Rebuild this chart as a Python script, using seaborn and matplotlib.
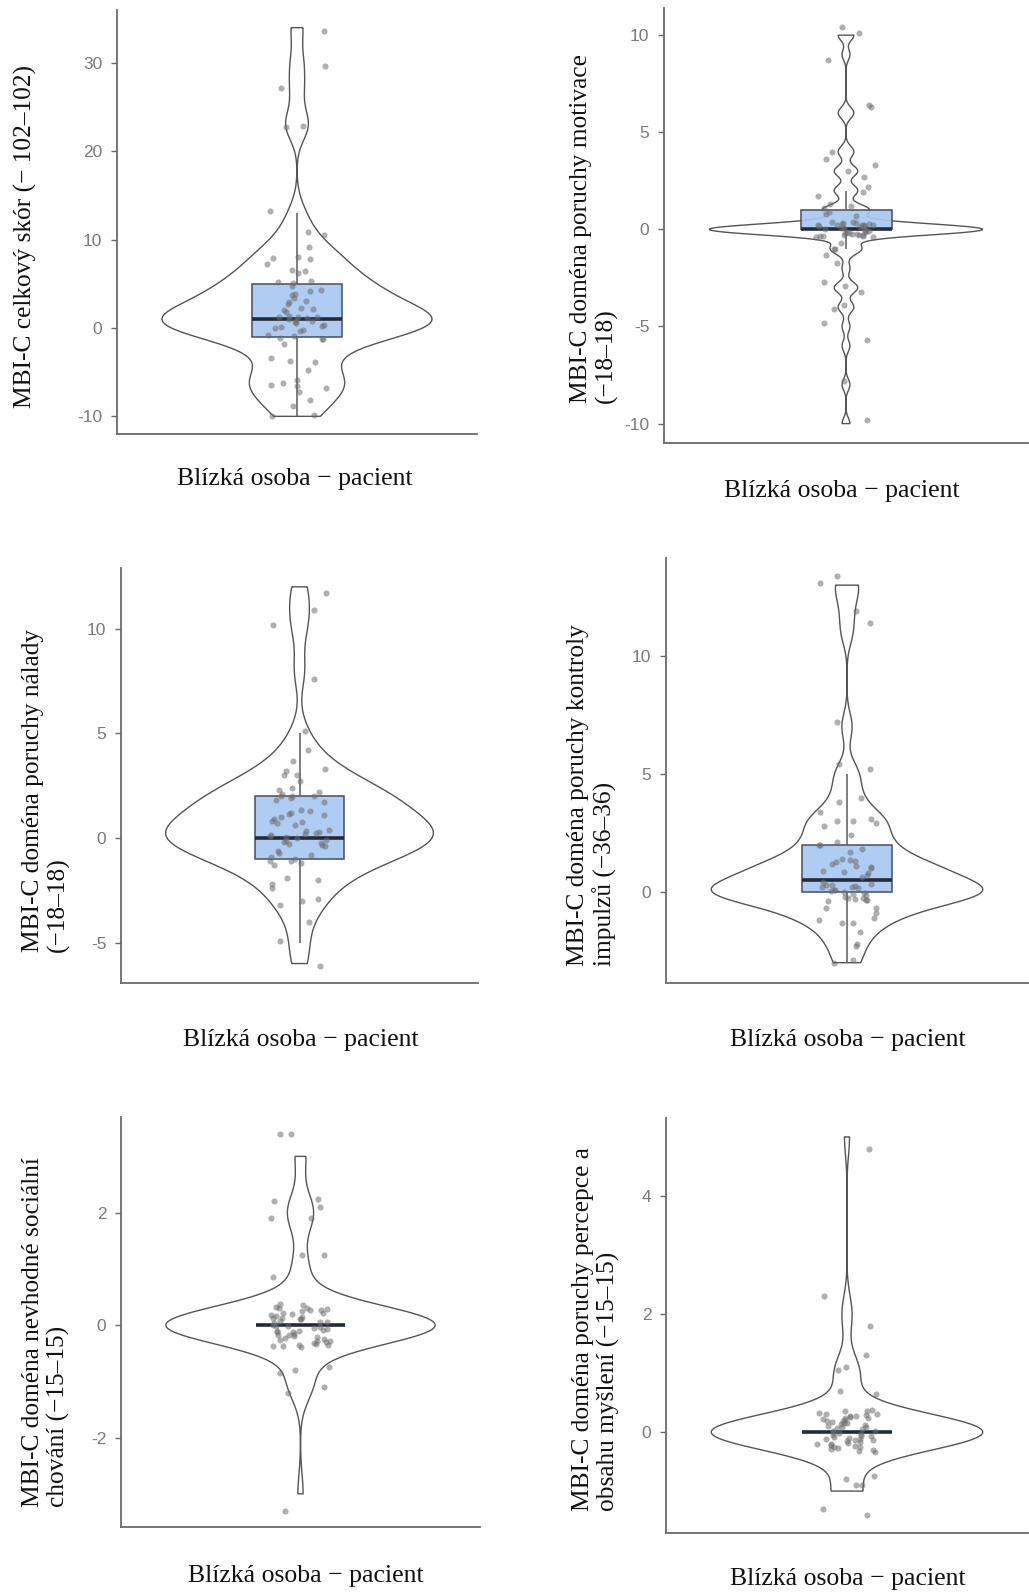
import numpy as np
import pandas as pd
import matplotlib
matplotlib.use("Agg")
import matplotlib.pyplot as plt
import seaborn as sns

group = "Blízká osoba − pacient"

# MBI-C celkový skór: integer scores (value, count) + jittered point positions
total_values = [-10, -9, -8, -7, -6, -5, -4, -3, -2, -1, 0, 1, 2, 3, 4, 5, 6, 7, 8, 9, 10, 11, 13, 23, 27, 30, 34]
total_counts = [2, 1, 1, 3, 3, 1, 2, 1, 1, 5, 6, 10, 4, 4, 4, 4, 2, 2, 3, 1, 1, 1, 1, 2, 1, 1, 1]
total_points = [-10.0, -9.9, -8.8, -8.2, -6.8, -7.2, -6.6, -6.4, -6.2, -5.9, -4.7, -3.9, -3.7, -3.4, -1.8,
                -1.2, -1.1, -0.9, -1.3, -0.8,
                -0.2, 0.3, 0.1, -0.3, 0.2, 0.0,
                1.3, 0.8, 1.1, 0.7, 1.2, 0.9, 1.4, 0.6, 1.0, 1.2,
                2.1, 1.8, 2.3, 2.0, 3.4, 2.7, 3.1, 2.9, 3.9, 4.2, 3.7, 4.3, 5.2, 5.3, 4.8, 5.1,
                6.4, 6.2, 6.6, 7.3, 7.9, 7.8, 8.0, 9.2, 10.5, 10.9, 13.2, 22.8, 22.9, 27.2, 29.7, 33.6]

# porucha motivace
motiv_values = [-10, -8, -6, -5, -4, -3, -2, -1, 0, 1, 2, 3, 4, 6, 9, 10]
motiv_counts = [1, 1, 1, 1, 2, 3, 1, 4, 35, 6, 3, 3, 2, 2, 1, 2]
motiv_points = [-9.8, -7.8, -5.7, -4.8, -4.1, -3.9, -3.2, -2.9, -2.7, -1.75, -1.0, -1.0, -1.3, -0.7,
                0.35, -0.3, 0.2, -0.15, 0.05, -0.35, 0.3, -0.25, 0.1, -0.4,
                0.25, -0.1, 0.4, -0.2, 0.15, -0.3, 0.0, 0.35, -0.35, 0.2,
                -0.05, 0.3, -0.25, 0.1, -0.15, 0.25, -0.4, 0.05, -0.3, 0.15,
                -0.2, 0.4, -0.1, 0.2, -0.35,
                1.3, 0.7, 1.1, 0.9, 1.2, 0.8, 1.9, 2.2, 1.7, 3.0, 2.7, 3.3,
                4.0, 3.6, 6.4, 6.3, 8.7, 10.4, 10.1]

# porucha nálady
mood_values = [-6, -5, -4, -3, -2, -1, 0, 1, 2, 3, 4, 5, 8, 10, 11, 12]
mood_counts = [1, 1, 1, 3, 4, 9, 16, 11, 10, 5, 2, 1, 1, 1, 1, 1]
mood_points = [-6.1, -4.9, -4.0, -2.9, -3.0, -3.2, -2.2, -1.9, -2.0, -2.4,
               -1.1, -1.1, -1.3, -0.7, -0.9, -1.2, -0.8, -1.0, -0.6,
               -0.3, 0.2, -0.1, 0.4, -0.2, 0.1, 0.3, -0.4, 0.0, 0.25, -0.25, 0.35, -0.35, 0.15, -0.15, 0.05,
               0.7, 1.1, 0.8, 1.3, 0.9, 1.2, 0.6, 1.0, 1.35, 0.75, 1.15,
               2.0, 2.3, 2.0, 1.9, 2.4, 2.1, 1.7, 2.2, 1.8, 2.0,
               3.0, 3.0, 3.2, 2.7, 3.3, 3.7, 4.2, 5.1, 7.6, 10.2, 10.9, 11.7]

# porucha kontroly impulzů
impulse_values = [-3, -2, -1, 0, 1, 2, 3, 4, 5, 7, 11, 12, 13]
impulse_counts = [2, 3, 7, 22, 13, 6, 6, 2, 2, 1, 1, 1, 2]
impulse_points = [-2.9, -3.0, -2.2, -1.7, -2.3, -0.7, -0.7, -1.1, -1.3, -1.3, -1.2, -0.9,
                  -0.35, -0.3, -0.25, -0.4, 0.1, 0.3, -0.1, 0.2, 0.35, -0.2, 0.0,
                  0.4, 0.15, -0.15, 0.25, 0.05, -0.05, 0.3, -0.35, 0.2, 0.1, -0.25,
                  1.3, 1.2, 0.8, 1.4, 1.0, 0.7, 0.9, 1.1, 1.25, 0.65, 1.35, 0.85, 1.05,
                  2.0, 1.7, 2.1, 2.0, 1.8, 2.4, 3.1, 3.0, 3.0, 2.9, 2.8, 3.4,
                  4.0, 3.8, 5.4, 5.2, 7.2, 11.4, 11.9, 13.4, 13.1]

# nevhodné sociální chování
social_values = [-3, -1, 0, 1, 2, 3]
social_counts = [1, 5, 52, 3, 5, 2]
social_points = [-3.3, -0.75, -0.8, -0.85, -1.2, -1.1,
                 0.38, -0.21, 0.30, -0.36, 0.25, 0.12, -0.30, 0.20, -0.06, 0.15,
                 0.33, -0.12, 0.08, -0.26, 0.03, -0.38, 0.28, -0.02, 0.10, -0.17,
                 0.22, -0.34, 0.05, -0.10, 0.18, -0.28, 0.01, -0.15, 0.36, -0.24,
                 -0.04, 0.31, -0.19, 0.26, -0.08, 0.21, -0.32, 0.16, -0.01, 0.11,
                 -0.39, 0.06, -0.23, 0.27, -0.13, -0.29, 0.13, -0.35, -0.11, -0.37, -0.07, -0.18,
                 1.25, 1.25, 0.85, 2.25, 2.2, 2.1, 1.9, 1.9, 3.4, 3.4]

# poruchy percepce a obsahu myšlení
percep_values = [-1, 0, 1, 2, 5]
percep_counts = [6, 54, 5, 2, 1]
percep_points = [-0.75, -0.8, -0.9, -0.9, -1.3, -1.4,
                 0.38, -0.12, 0.26, -0.25, 0.05, 0.33, -0.18, 0.12, -0.03, 0.22,
                 0.35, -0.28, 0.08, -0.15, 0.19, -0.07, 0.29, -0.32, 0.02, 0.17,
                 -0.22, 0.31, -0.10, 0.13, -0.27, 0.24, 0.00, -0.20, 0.36, -0.05,
                 0.15, -0.30, 0.10, -0.13, 0.27, -0.08, 0.20, -0.34, 0.07, -0.17,
                 0.23, -0.02, 0.30, -0.23, 0.16, -0.11, 0.09, -0.26, 0.01, -0.14,
                 0.28, -0.21, 0.19, -0.06,
                 1.3, 1.1, 1.05, 0.7, 0.65, 2.3, 1.8, 4.8]

panels = [
    ("MBI-C celkový skór (− 102–102)", total_values, total_counts, total_points,
     (-12.0, 36.0), [-10, 0, 10, 20, 30]),
    ("MBI-C doména poruchy motivace\n(−18–18)", motiv_values, motiv_counts, motiv_points,
     (-11.0, 11.4), [-10, -5, 0, 5, 10]),
    ("MBI-C doména poruchy nálady\n(−18–18)", mood_values, mood_counts, mood_points,
     (-6.93, 12.9), [-5, 0, 5, 10]),
    ("MBI-C doména poruchy kontroly\nimpulzů (−36–36)", impulse_values, impulse_counts, impulse_points,
     (-3.86, 14.15), [0, 5, 10]),
    ("MBI-C doména nevhodné sociální\nchování (−15–15)", social_values, social_counts, social_points,
     (-3.59, 3.70), [-2, 0, 2]),
    ("MBI-C doména poruchy percepce a\nobsahu myšlení (−15–15)", percep_values, percep_counts, percep_points,
     (-1.71, 5.32), [0, 2, 4]),
]

# pixel layout: axes (left, right, top, bottom), ylabel centre, xlabel centre
W, H = 1029, 1594
axes_px = [(117, 477, 10, 434), (664, 1028, 8, 443),
           (121, 478, 568, 983), (666, 1028, 558, 983),
           (121, 480, 1117, 1527), (666, 1028, 1118, 1533)]
ylab_px = [(25, 236), (594, 229), (46, 790), (592, 795), (46, 1332), (596, 1329)]
xlab_px = [(295, 479), (842, 491), (301, 1040), (848, 1040), (306, 1576), (848, 1579)]


def nrd0(kde):
    # R's default bandwidth (bw.nrd0), as factor of the sample sd
    x = np.asarray(kde.dataset).ravel()
    sd = x.std(ddof=1)
    q75, q25 = np.percentile(x, [75, 25])
    lo = min(sd, (q75 - q25) / 1.34)
    if lo == 0:
        lo = sd
    return 0.9 * lo * len(x) ** -0.2 / sd


sns.set_theme(style="ticks")
plt.rcParams['font.family'] = ['Liberation Sans', 'DejaVu Sans']
np.random.seed(7)

fig = plt.figure(figsize=(W / 100, H / 100), dpi=100)
serif = ['Liberation Serif', 'DejaVu Serif']

for i, (label, vals, cnts, pts, ylim, yticks) in enumerate(panels):
    l, r, t, b = axes_px[i]
    ax = fig.add_axes([l / W, 1 - b / H, (r - l) / W, (b - t) / H])

    scores = pd.DataFrame({'group': group, 'score': np.repeat(vals, cnts)})
    points = pd.DataFrame({'group': group, 'score': pts})

    sns.stripplot(data=points, x='group', y='score', jitter=0.1, size=4.4,
                  color='#6e6e6e', alpha=0.55, linewidth=0, ax=ax)
    sns.violinplot(data=scores, x='group', y='score', cut=0, width=0.9, inner=None,
                   fill=False, color='#555555', linewidth=1.0, bw_method=nrd0,
                   gridsize=512, ax=ax)
    sns.boxplot(data=scores, x='group', y='score', width=0.3, whis=1.5,
                showfliers=False, showcaps=False,
                boxprops=dict(facecolor=(0.660, 0.785, 0.945, 0.92), edgecolor='#46505e', linewidth=1.1),
                medianprops=dict(color='#222b36', linewidth=2.6),
                whiskerprops=dict(color='#5a5a5a', linewidth=1.1),
                ax=ax)

    ax.set_xlim(-0.6, 0.6)
    ax.set_ylim(*ylim)
    ax.set_yticks(yticks)
    ax.set_yticklabels([str(v) for v in yticks])
    ax.set_xticks([])
    ax.set_xlabel('')
    ax.set_ylabel('')
    sns.despine(ax=ax)
    for side in ['left', 'bottom']:
        ax.spines[side].set_color('#6a6a6a')
        ax.spines[side].set_linewidth(1.3)
    ax.tick_params(axis='y', length=4.5, width=1.0, color='#6a6a6a',
                   labelcolor='#7a7a7a', labelsize=12.5, pad=6)

    yx, yy = ylab_px[i]
    fig.text(yx / W, 1 - yy / H, label, rotation=90, ha='center', va='center',
             multialignment='left', fontsize=18.3, family=serif, color='#111111')
    xx, xy = xlab_px[i]
    fig.text(xx / W, 1 - xy / H, group, ha='center', va='center', fontsize=18.5,
             family=serif, color='#111111')

fig.savefig('out.png', dpi=100, facecolor='white')
